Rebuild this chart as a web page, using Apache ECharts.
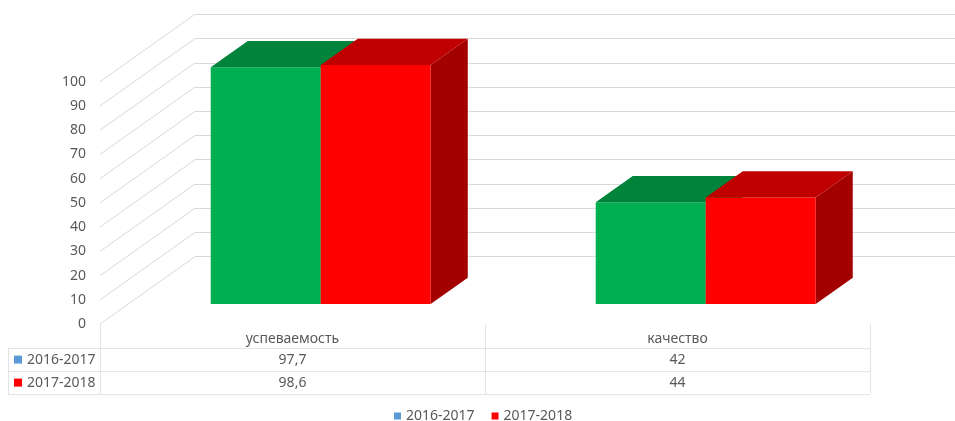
<!DOCTYPE html>
<html>
<head>
<meta charset="utf-8">
<script src="https://cdn.jsdelivr.net/npm/echarts@6/dist/echarts.min.js"></script>
<style>html,body{margin:0;padding:0;background:#fff}#c{width:955px;height:421px}</style>
</head>
<body>
<div id="c"></div>
<script>
// ---- data ----
const categories = ['успеваемость', 'качество'];
const seriesNames = ['2016-2017', '2017-2018'];
const values2016 = [97.7, 42];
const values2017 = [98.6, 44];
const yTicks = [0, 10, 20, 30, 40, 50, 60, 70, 80, 90, 100];

// ---- style / layout constants ----
const FONT = 'Noto Sans';
const TXT = '#595959';
const GRIDC = '#D9D9D9';
const DEPTH = [95, -67.4];      // full floor depth projection
const D0 = 0.297, D1 = 0.687;   // bar front / back depth fractions
const BAR_FRAC = 0.2857;        // bar width as fraction of category band
const legendColors = ['#5B9BD5', '#FF0000'];
const barColors = [
  {front: '#00B050', top: '#00843C', side: '#007A33'},
  {front: '#FF0000', top: '#C00000', side: '#A30000'}
];
const fmt = v => String(v).replace('.', ',');

const chart = echarts.init(document.getElementById('c'), null, {renderer: 'canvas'});

function barSeries(name, values, order) {
  const col = barColors[order];
  return {
    name: name,
    type: 'custom',
    xAxisIndex: 0, yAxisIndex: 0,
    clip: false,
    z: 5 + order,
    itemStyle: {color: legendColors[order]},
    data: values.map((v, i) => [i, v]),
    renderItem: function (params, api) {
      const ci = api.value(0), v = api.value(1);
      const band = api.size([1, 0])[0];
      const bw = band * BAR_FRAC;
      const c0 = api.coord([ci, 0]);
      const cv = api.coord([ci, v]);
      const ox = D0 * DEPTH[0], oy = D0 * DEPTH[1];
      const dx = (D1 - D0) * DEPTH[0], dy = (D1 - D0) * DEPTH[1];
      const x0 = c0[0] + ox - bw + order * bw;
      const yB = c0[1] + oy, yT = cv[1] + oy;
      const x1 = x0 + bw;
      return {
        type: 'group',
        children: [
          {type: 'polygon', shape: {points: [[x1, yT], [x1 + dx, yT + dy], [x1 + dx, yB + dy], [x1, yB]]}, style: {fill: col.side}},
          {type: 'rect', shape: {x: x0, y: yT, width: bw, height: yB - yT}, style: {fill: col.front}},
          {type: 'polygon', shape: {points: [[x0, yT], [x1, yT], [x1 + dx, yT + dy], [x0 + dx, yT + dy]]}, style: {fill: col.top}}
        ]
      };
    }
  };
}

const diagSeries = {
  type: 'custom',
  xAxisIndex: 0, yAxisIndex: 0,
  clip: false, silent: true, z: 1,
  data: yTicks.map(t => [0, t]),
  renderItem: function (params, api) {
    const y = api.coord([0, api.value(1)])[1];
    const x = params.coordSys.x;
    return {type: 'line', shape: {x1: x, y1: y, x2: x + DEPTH[0], y2: y + DEPTH[1]}, style: {stroke: GRIDC, lineWidth: 1}};
  }
};

const ROW_LINES = [24, 47, 70];   // offsets below the floor front line
const ROW_MID = [35.5, 58.5];
const rowValues = [values2016, values2017];

const tableSeries = {
  type: 'custom',
  xAxisIndex: 0, yAxisIndex: 0,
  clip: false, silent: true, z: 2,
  data: categories.map((c, i) => [i, 0]),
  renderItem: function (params, api) {
    const ci = api.value(0);
    const band = api.size([1, 0])[0];
    const c0 = api.coord([ci, 0]);
    const base = c0[1];
    const cx = c0[0];
    const children = [];
    const line = (x1, y1, x2, y2) => children.push({type: 'line', shape: {x1, y1, x2, y2}, style: {stroke: '#E3E3E3', lineWidth: 1}});
    line(cx + band / 2 + 0.5, base, cx + band / 2 + 0.5, base + ROW_LINES[2]);
    rowValues.forEach((arr, r) => {
      children.push({type: 'text', style: {text: fmt(arr[ci]), x: cx, y: base + ROW_MID[r], align: 'center', verticalAlign: 'middle', fill: TXT, font: '14px "' + FONT + '"'}});
    });
    if (ci === 0) {
      const gx = params.coordSys.x;
      const tableLeft = 8;
      const right = gx + params.coordSys.width;
      line(gx + 0.5, base, gx + 0.5, base + ROW_LINES[2]);
      line(tableLeft + 0.5, base + ROW_LINES[0], tableLeft + 0.5, base + ROW_LINES[2]);
      ROW_LINES.forEach(o => line(tableLeft, base + o + 0.5, right, base + o + 0.5));
      seriesNames.forEach((n, r) => {
        const ym = base + ROW_MID[r];
        children.push({type: 'rect', shape: {x: 14, y: ym - 4, width: 8, height: 8}, style: {fill: legendColors[r]}});
        children.push({type: 'text', style: {text: n, x: 27, y: ym, align: 'left', verticalAlign: 'middle', fill: TXT, font: '14px "' + FONT + '"'}});
      });
    }
    return {type: 'group', children};
  }
};

const option = {
  animation: false,
  backgroundColor: '#fff',
  textStyle: {fontFamily: FONT, color: TXT},
  grid: [
    {left: 100, top: 81.7, width: 770, height: 242.4},
    {left: 195, top: 14.3, width: 770, height: 242.4}
  ],
  xAxis: [
    {gridIndex: 0, type: 'category', data: categories,
     axisLine: {show: false}, axisTick: {show: false}, splitLine: {show: false},
     axisLabel: {margin: 8, color: TXT, fontSize: 14, fontFamily: FONT}},
    {gridIndex: 1, type: 'category', data: categories, show: false}
  ],
  yAxis: [
    {gridIndex: 0, type: 'value', min: 0, max: 100, interval: 10,
     axisLine: {show: false}, axisTick: {show: false}, splitLine: {show: false},
     axisLabel: {margin: 14, color: TXT, fontSize: 14, fontFamily: FONT}},
    {gridIndex: 1, type: 'value', min: 0, max: 100, interval: 10,
     axisLine: {show: false}, axisTick: {show: false}, axisLabel: {show: false},
     splitLine: {show: true, lineStyle: {color: GRIDC, width: 1}}}
  ],
  legend: {
    data: seriesNames.map((n, i) => ({name: n, itemStyle: {color: legendColors[i]}})),
    icon: 'rect', itemWidth: 7, itemHeight: 7, itemGap: 17,
    left: 389, top: 404,
    textStyle: {color: TXT, fontSize: 14, fontFamily: FONT}
  },
  series: [
    diagSeries,
    tableSeries,
    barSeries(seriesNames[0], values2016, 0),
    barSeries(seriesNames[1], values2017, 1)
  ]
};
chart.setOption(option);
</script>
</body>
</html>
